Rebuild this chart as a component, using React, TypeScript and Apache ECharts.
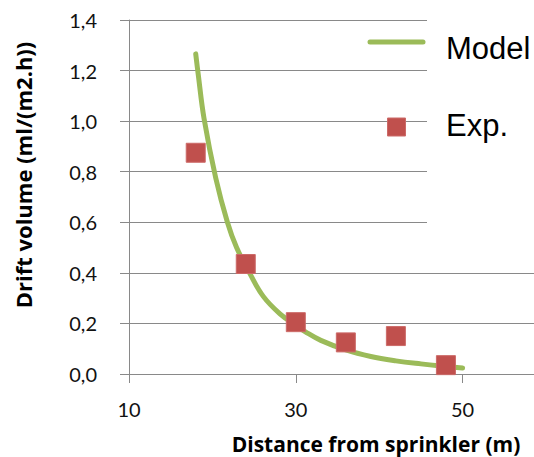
import React, { useEffect, useRef } from "react";
import * as echarts from "echarts";

// Measured drift at the collectors
const expDistance = [18, 24, 30, 36, 42, 48];
const expDrift = [0.875, 0.435, 0.205, 0.125, 0.15, 0.035];

// Model curve, sampled along its length
const modelDistance = [18, 18.3, 19, 20.4, 21.8, 22.9, 24.5, 26.1, 28.1, 30, 31.2, 33, 36, 39, 42, 45, 48, 50];
const modelDrift = [1.266, 1.185, 1.01, 0.775, 0.6, 0.5, 0.397, 0.307, 0.238, 0.193, 0.166, 0.133, 0.095, 0.069, 0.052, 0.04, 0.03, 0.024];

const xTicks = [10, 30, 50];
const yTickStep = 0.2;

const seriesNames = ["Model", "Exp."];
const xTitle = "Distance from sprinkler (m)";
const yTitle = "Drift volume (ml/(m2.h))";

const GRID = "#898989";
const GREEN = "#9BBB59";
const RED = "#C0504D";
const LABEL_FONT = "Lato, 'Open Sans', sans-serif";
const TITLE_FONT = "'Open Sans', Lato, sans-serif";
const LEGEND_FONT = "'Liberation Sans', Arial, sans-serif";

export default function App() {
  const ref = useRef<HTMLDivElement>(null);

  useEffect(() => {
    if (!ref.current) return;
    const chart = echarts.init(ref.current, null, { renderer: "svg" });

    const modelData = modelDistance.map((x, i) => [x, modelDrift[i]]);
    const expData = expDistance.map((x, i) => [x, expDrift[i]]);

    chart.setOption({
      animation: false,
      backgroundColor: "#ffffff",
      grid: { left: 129, top: 20, width: 417, height: 354, outerBoundsMode: "none", containLabel: false },
      xAxis: {
        type: "value",
        min: 10,
        max: 60,
        axisLine: { show: true, lineStyle: { color: GRID, width: 1 } },
        axisTick: {
          show: true,
          length: 9,
          customValues: xTicks,
          lineStyle: { color: GRID, width: 1 },
        },
        axisLabel: {
          customValues: xTicks,
          margin: 25,
          fontSize: 20,
          fontFamily: LABEL_FONT,
          color: "#111",
        },
        splitLine: { show: false },
      },
      yAxis: {
        type: "value",
        min: 0,
        max: 1.4,
        interval: yTickStep,
        axisLine: { show: true, lineStyle: { color: GRID, width: 1 } },
        axisTick: { show: true, length: 9, lineStyle: { color: GRID, width: 1 } },
        axisLabel: {
          margin: 32,
          fontSize: 20,
          fontFamily: LABEL_FONT,
          color: "#111",
          formatter: (v: number) => v.toFixed(1).replace(".", ","),
        },
        splitLine: { show: true, lineStyle: { color: GRID, width: 1 } },
      },
      series: [
        {
          name: seriesNames[0],
          type: "line",
          data: modelData,
          smooth: 0.4,
          showSymbol: false,
          symbol: "none",
          lineStyle: { color: GREEN, width: 5, cap: "round" },
          z: 2,
        },
        {
          name: seriesNames[1],
          type: "scatter",
          data: expData,
          symbol: "rect",
          symbolSize: 19,
          itemStyle: { color: RED, opacity: 1, borderColor: "#cc6a68", borderWidth: 1 },
          z: 3,
        },
      ],
      graphic: [
        {
          type: "rect",
          z: 100,
          shape: { x: 427, y: 0, width: 107, height: 250 },
          style: { fill: "#ffffff" },
        },
        {
          type: "line",
          z: 101,
          shape: { x1: 370, y1: 42, x2: 423, y2: 42 },
          style: { stroke: GREEN, lineWidth: 5, lineCap: "round" },
        },
        {
          type: "rect",
          z: 101,
          shape: { x: 387.5, y: 118, width: 18, height: 18 },
          style: { fill: RED, stroke: "#cc6a68", lineWidth: 1 },
        },
        {
          type: "text",
          z: 101,
          x: 446,
          y: 48,
          style: {
            text: seriesNames[0],
            font: `31px ${LEGEND_FONT}`,
            fill: "#000",
            textAlign: "left",
            textVerticalAlign: "middle",
          },
        },
        {
          type: "text",
          z: 101,
          x: 446,
          y: 125,
          style: {
            text: seriesNames[1],
            font: `31px ${LEGEND_FONT}`,
            fill: "#000",
            textAlign: "left",
            textVerticalAlign: "middle",
          },
        },
        {
          type: "text",
          z: 101,
          x: 376,
          y: 444,
          style: {
            text: xTitle,
            font: `bold 21px ${TITLE_FONT}`,
            fill: "#000",
            textAlign: "center",
            textVerticalAlign: "middle",
          },
        },
        {
          type: "text",
          z: 101,
          x: 23,
          y: 175,
          rotation: Math.PI / 2,
          style: {
            text: yTitle,
            font: `bold 22px ${TITLE_FONT}`,
            fill: "#000",
            textAlign: "center",
            textVerticalAlign: "middle",
          },
        },
      ],
    });

    return () => chart.dispose();
  }, []);

  return (
    <div
      ref={ref}
      style={{ position: "fixed", left: 0, top: 0, width: 534, height: 457 }}
    />
  );
}
